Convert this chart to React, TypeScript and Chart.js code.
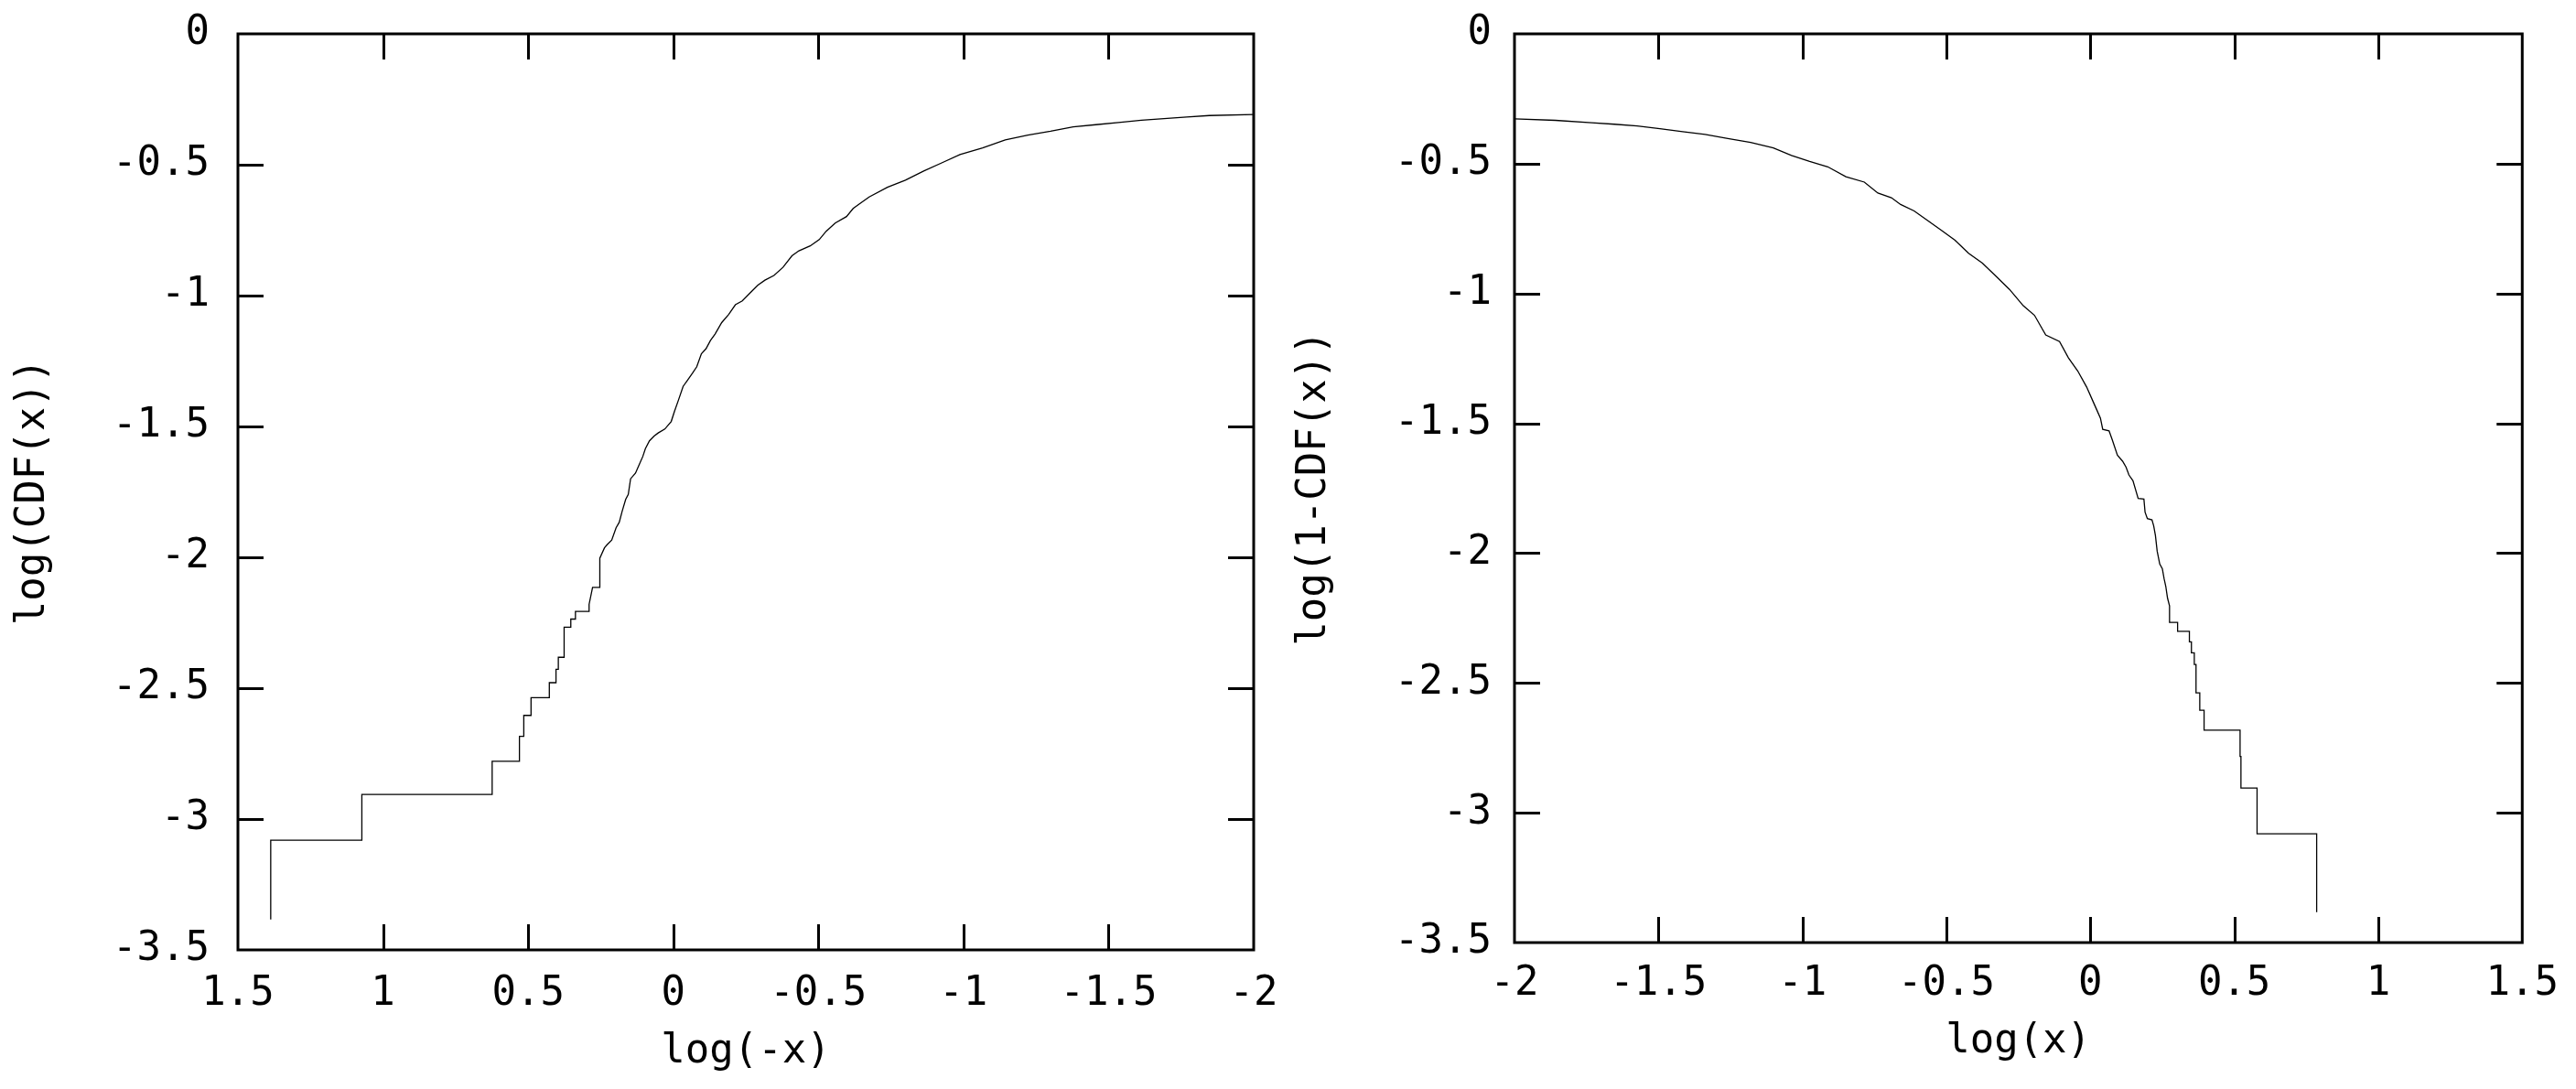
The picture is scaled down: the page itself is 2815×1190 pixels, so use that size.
import React, { useEffect, useRef } from "react";
import { Chart, registerables } from "chart.js";

Chart.register(...registerables);

// ---- data: left panel, log(CDF(x)) versus log(-x) ----
const cdfLogNegX = [1.387, 1.387, 1.073, 1.073, 0.624, 0.624, 0.53, 0.53, 0.515, 0.515, 0.49, 0.49, 0.427, 0.427, 0.404, 0.404, 0.396, 0.396, 0.376, 0.376, 0.353, 0.353, 0.337, 0.337, 0.29, 0.29, 0.278, 0.253, 0.253, 0.237, 0.228, 0.212, 0.197, 0.186, 0.176, 0.164, 0.155, 0.147, 0.13, 0.117, 0.105, 0.096, 0.082, 0.066, 0.052, 0.029, 0.007, -0.004, -0.018, -0.034, -0.05, -0.066, -0.081, -0.097, -0.113, -0.128, -0.144, -0.167, -0.191, -0.214, -0.238, -0.269, -0.292, -0.316, -0.347, -0.378, -0.409, -0.433, -0.472, -0.503, -0.527, -0.558, -0.597, -0.62, -0.644, -0.675, -0.738, -0.8, -0.863, -0.925, -0.988, -1.066, -1.144, -1.222, -1.3, -1.378, -1.456, -1.534, -1.613, -1.691, -1.769, -1.847, -2.0];
const cdfLogY = [-3.384, -3.081, -3.081, -2.906, -2.906, -2.779, -2.779, -2.684, -2.684, -2.604, -2.604, -2.536, -2.536, -2.479, -2.479, -2.428, -2.428, -2.382, -2.382, -2.267, -2.267, -2.236, -2.236, -2.207, -2.207, -2.18, -2.115, -2.115, -2.003, -1.964, -1.952, -1.934, -1.887, -1.866, -1.824, -1.779, -1.76, -1.7, -1.678, -1.645, -1.615, -1.585, -1.555, -1.537, -1.525, -1.51, -1.481, -1.443, -1.399, -1.347, -1.322, -1.297, -1.272, -1.222, -1.203, -1.172, -1.147, -1.103, -1.072, -1.035, -1.02, -0.985, -0.96, -0.941, -0.923, -0.892, -0.848, -0.829, -0.81, -0.786, -0.754, -0.723, -0.698, -0.667, -0.648, -0.623, -0.586, -0.559, -0.524, -0.493, -0.461, -0.436, -0.405, -0.387, -0.372, -0.355, -0.347, -0.339, -0.33, -0.324, -0.318, -0.312, -0.308];

// ---- data: right panel, log(1-CDF(x)) versus log(x) ----
const ccdfLogX = [-2.0, -1.858, -1.732, -1.653, -1.574, -1.495, -1.416, -1.338, -1.259, -1.18, -1.101, -1.038, -0.975, -0.912, -0.849, -0.785, -0.738, -0.691, -0.659, -0.612, -0.565, -0.517, -0.47, -0.423, -0.375, -0.328, -0.281, -0.233, -0.194, -0.155, -0.107, -0.076, -0.044, -0.013, 0.011, 0.023, 0.035, 0.043, 0.065, 0.076, 0.094, 0.112, 0.124, 0.134, 0.148, 0.166, 0.186, 0.19, 0.198, 0.214, 0.22, 0.226, 0.232, 0.241, 0.25, 0.256, 0.262, 0.268, 0.275, 0.275, 0.303, 0.303, 0.344, 0.344, 0.351, 0.351, 0.361, 0.361, 0.367, 0.367, 0.38, 0.38, 0.395, 0.395, 0.52, 0.52, 0.523, 0.523, 0.579, 0.579, 0.786, 0.786];
const ccdfLogY = [-0.327, -0.333, -0.342, -0.348, -0.355, -0.365, -0.377, -0.387, -0.403, -0.418, -0.439, -0.468, -0.491, -0.512, -0.55, -0.571, -0.613, -0.631, -0.657, -0.682, -0.719, -0.757, -0.795, -0.845, -0.883, -0.933, -0.984, -1.047, -1.084, -1.16, -1.185, -1.248, -1.298, -1.36, -1.42, -1.45, -1.48, -1.523, -1.529, -1.563, -1.623, -1.646, -1.669, -1.699, -1.721, -1.789, -1.792, -1.842, -1.867, -1.872, -1.895, -1.932, -1.992, -2.042, -2.06, -2.098, -2.128, -2.173, -2.203, -2.267, -2.267, -2.301, -2.301, -2.342, -2.342, -2.384, -2.384, -2.429, -2.429, -2.538, -2.538, -2.605, -2.605, -2.682, -2.682, -2.783, -2.783, -2.905, -2.905, -3.081, -3.081, -3.383];

// ---- axes ----
const xRange = [-2, 1.5];
const yRange = [-3.5, 0];
const tickStep = 0.5;

const FONT = { family: "'DejaVu Sans Mono', monospace", size: 44, lineHeight: 1.2 };
const fmt = (v: number) => String(Math.round(v * 10) / 10);

const CANVAS_TOP = -30;
const CANVAS_H = 1220;

const frameTicks = {
  id: "frameTicks",
  afterDatasetsDraw(chart: any) {
    const { ctx, chartArea: a, scales } = chart;
    const x = scales.x;
    const y = scales.y;
    const L = 28;
    const eps = 1e-6;
    ctx.save();
    ctx.strokeStyle = "#000";
    ctx.lineWidth = 3;
    ctx.lineCap = "butt";
    ctx.strokeRect(a.left, a.top, a.right - a.left, a.bottom - a.top);
    ctx.beginPath();
    x.ticks.forEach((t: any) => {
      const v = t.value;
      if (v <= x.min + eps || v >= x.max - eps) return;
      const px = Math.round(x.getPixelForValue(v)) + 0.5;
      ctx.moveTo(px, a.bottom);
      ctx.lineTo(px, a.bottom - L);
      ctx.moveTo(px, a.top);
      ctx.lineTo(px, a.top + L);
    });
    y.ticks.forEach((t: any) => {
      const v = t.value;
      if (v <= y.min + eps || v >= y.max - eps) return;
      const py = Math.round(y.getPixelForValue(v)) + 0.5;
      ctx.moveTo(a.left, py);
      ctx.lineTo(a.left + L, py);
      ctx.moveTo(a.right, py);
      ctx.lineTo(a.right - L, py);
    });
    ctx.stroke();
    ctx.restore();
  },
};

type PanelCfg = {
  xs: number[];
  ys: number[];
  reverse: boolean;
  xTitle: string;
  yTitle: string;
  yAxisWidth: number;
  xAxisHeight: number;
  padRight: number;
  padTop: number;
  yTickPad: number;
  xTickPad: number;
  yTitlePad: number;
  xTitlePad: number;
};

function Panel({ cfg, left, width }: { cfg: PanelCfg; left: number; width: number }) {
  const ref = useRef<HTMLCanvasElement | null>(null);
  useEffect(() => {
    if (!ref.current) return;
    const data = cfg.xs.map((xv, i) => ({ x: xv, y: cfg.ys[i] }));
    const chart = new Chart(ref.current, {
      type: "line",
      data: {
        datasets: [
          {
            data,
            borderColor: "#000",
            borderWidth: 1.3,
            pointRadius: 0,
            tension: 0,
            fill: false,
          },
        ],
      },
      options: {
        animation: false,
        responsive: false,
        devicePixelRatio: 1,
        parsing: false as any,
        layout: { padding: { left: 0, top: cfg.padTop, right: cfg.padRight, bottom: 0 } },
        plugins: { legend: { display: false }, tooltip: { enabled: false } },
        scales: {
          x: {
            type: "linear",
            min: xRange[0],
            max: xRange[1],
            reverse: cfg.reverse,
            grid: { display: false, drawTicks: false },
            border: { display: false },
            ticks: {
              stepSize: tickStep,
              autoSkip: false,
              maxRotation: 0,
              font: FONT,
              color: "#000",
              padding: cfg.xTickPad,
              callback: (v: any) => fmt(Number(v)),
            },
            title: {
              display: true,
              text: cfg.xTitle,
              font: FONT,
              color: "#000",
              padding: { top: 0, bottom: cfg.xTitlePad },
            },
            afterFit: (s: any) => {
              s.height = cfg.xAxisHeight;
            },
          },
          y: {
            type: "linear",
            min: yRange[0],
            max: yRange[1],
            grid: { display: false, drawTicks: false },
            border: { display: false },
            ticks: {
              stepSize: tickStep,
              autoSkip: false,
              font: FONT,
              color: "#000",
              padding: cfg.yTickPad,
              callback: (v: any) => fmt(Number(v)),
            },
            title: {
              display: true,
              text: cfg.yTitle,
              font: FONT,
              color: "#000",
              padding: { top: cfg.yTitlePad, bottom: 0 },
            },
            afterFit: (s: any) => {
              s.width = cfg.yAxisWidth;
            },
          },
        },
      },
      plugins: [frameTicks],
    } as any);
    return () => chart.destroy();
  }, [cfg]);
  return (
    <canvas
      ref={ref}
      width={width}
      height={CANVAS_H}
      style={{ position: "absolute", left, top: CANVAS_TOP, width, height: CANVAS_H }}
    />
  );
}

const leftCfg: PanelCfg = {
  xs: cdfLogNegX,
  ys: cdfLogY,
  reverse: true,
  xTitle: "log(-x)",
  yTitle: "log(CDF(x))",
  yAxisWidth: 260,
  xAxisHeight: 152,
  padRight: 50,
  padTop: 37 - CANVAS_TOP,
  yTickPad: 31,
  xTickPad: 22,
  yTitlePad: 10.6,
  xTitlePad: 14,
};

const rightCfg: PanelCfg = {
  xs: ccdfLogX,
  ys: ccdfLogY,
  reverse: false,
  xTitle: "log(x)",
  yTitle: "log(1-CDF(x))",
  yAxisWidth: 275,
  xAxisHeight: 160,
  padRight: 56,
  padTop: 37 - CANVAS_TOP,
  yTickPad: 25,
  xTickPad: 19,
  yTitlePad: 30.6,
  xTitlePad: 25,
};

export default function App() {
  return (
    <div style={{ position: "absolute", left: 0, top: 0, width: 2815, height: 1190, background: "#fff", overflow: "hidden" }}>
      <Panel cfg={leftCfg} left={0} width={1420} />
      <Panel cfg={rightCfg} left={1380} width={1435} />
    </div>
  );
}
